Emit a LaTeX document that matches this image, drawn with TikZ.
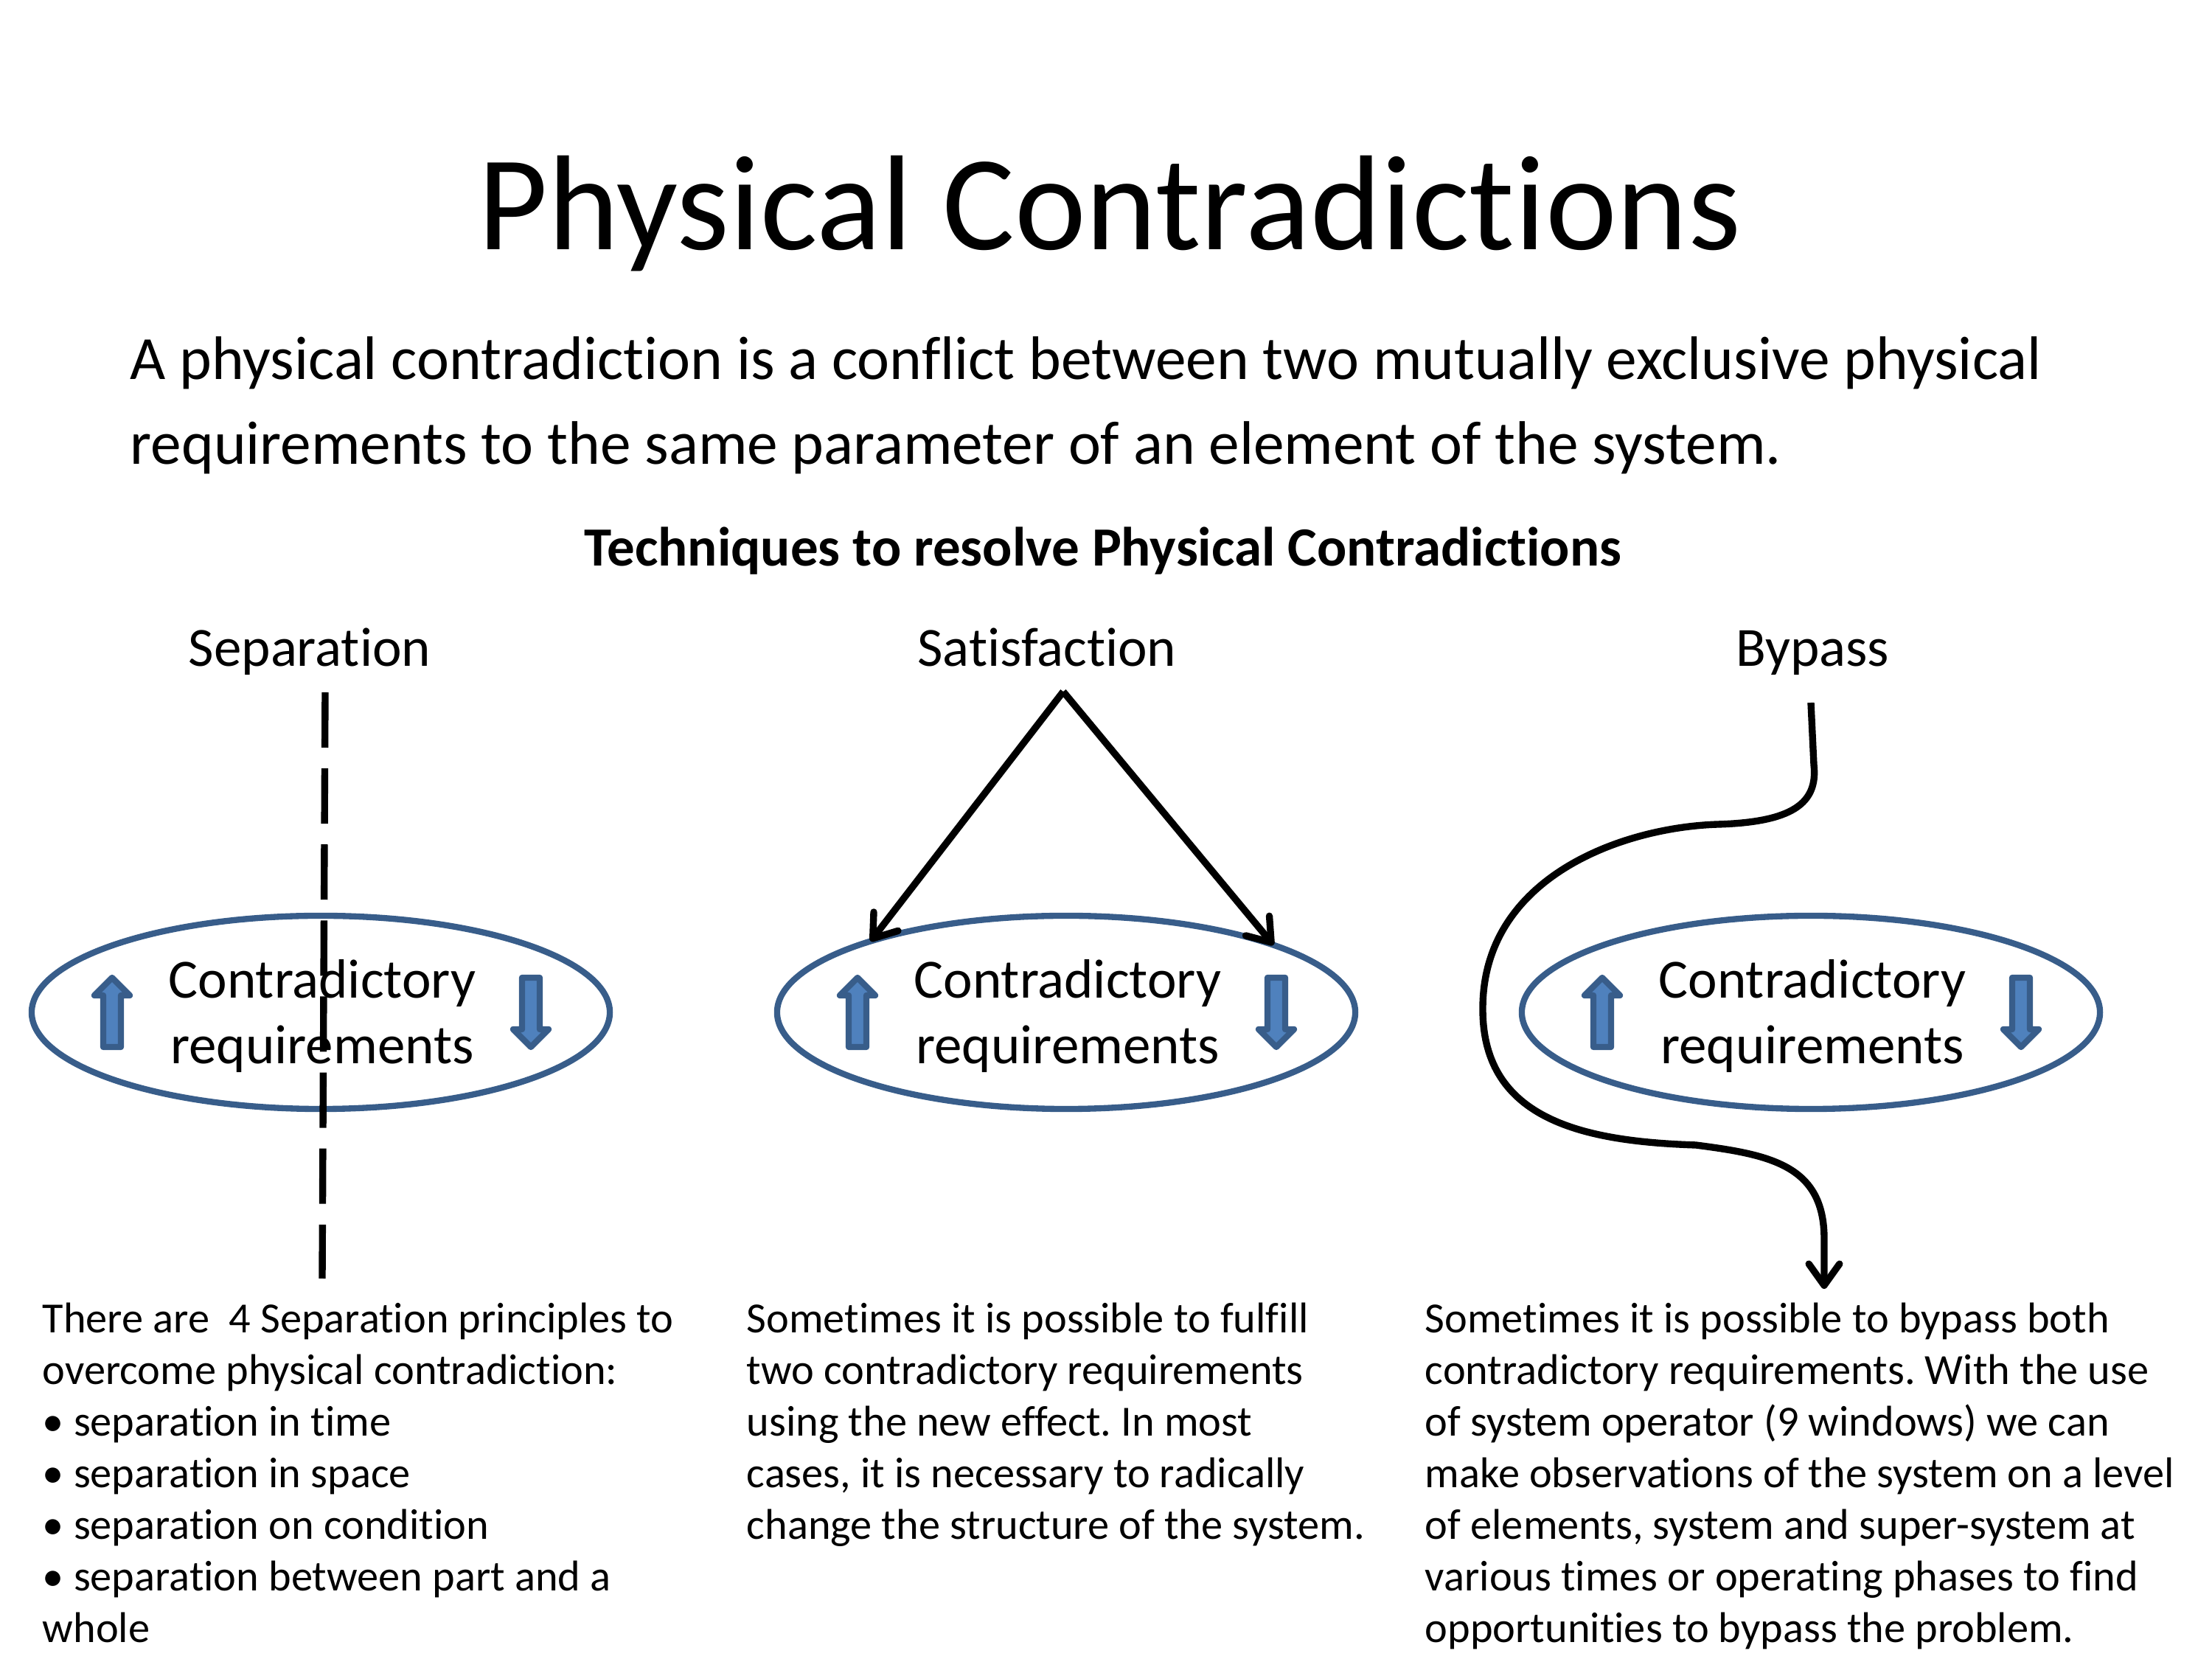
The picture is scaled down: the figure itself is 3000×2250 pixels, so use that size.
\documentclass[tikz,border=0pt]{standalone}
\usepackage{fontspec}
\setmainfont{Carlito}[Ligatures=CommonOff]
\frenchspacing
\usetikzlibrary{arrows.meta,shapes.geometric}
\definecolor{accdark}{HTML}{385D8A}
\definecolor{accfill}{HTML}{4F81BD}
\tikzset{
 reqell/.style={ellipse, draw=accdark, line width=2pt, minimum width=188.2pt, minimum height=62.9pt, inner sep=0pt, outer sep=0pt},
 reqtext/.style={anchor=base, inner sep=0pt, font=\fontsize{18}{21.6}\selectfont},
 body/.style={anchor=base west, inner sep=0pt, font=\fontsize{14}{16.8}\selectfont},
 head/.style={anchor=base, inner sep=0pt, font=\fontsize{18}{21.6}\selectfont},
 blackline/.style={line width=2.25pt, draw=black},
 barb/.style={-{Straight Barb[length=7pt,width=10pt,round]}},
 iconstyle/.style={draw=accdark, fill=accfill, line width=2pt, line join=round},
 upicon/.pic={\path[iconstyle] (0,-47) -- (24,-23) -- (12,-23) -- (12,47) -- (-12,47) -- (-12,-23) -- (-24,-23) -- cycle;},
 downicon/.pic={\path[iconstyle] (0,47) -- (24,23) -- (12,23) -- (12,-47) -- (-12,-47) -- (-12,23) -- (-24,23) -- cycle;},
}
\begin{document}
\begin{tikzpicture}[x=0.24pt,y=-0.24pt]
\useasboundingbox (0,0) rectangle (3000,2250);
% title and definition
\node[anchor=base, inner sep=0pt, font=\fontsize{44}{52.8}\selectfont] (title) at (1505,339) {Physical Contradictions};
\node[body, font=\fontsize{20}{24}\selectfont] (def1) at (176,515) {A physical contradiction is a conflict between two mutually exclusive physical};
\node[body, font=\fontsize{20}{24}\selectfont] (def2) at (176,630) {requirements to the same parameter of an element of the system.};
\node[head, font=\bfseries\fontsize{18}{21.6}\selectfont] (tech) at (1496,768) {Techniques to resolve Physical Contradictions};
% column headings
\node[head] (sep) at (420,904) {Separation};
\node[head] (sat) at (1420,904) {Satisfaction};
\node[head] (byp) at (2458,904) {Bypass};
% ellipses
\foreach \i/\cx in {1/435,2/1446,3/2456}{
 \node[reqell] (e\i) at (\cx,1373) {};
 \node[reqtext] (e\i top) at (\cx+2,1354) {Contradictory};
 \node[reqtext] (e\i bot) at (\cx+2,1443) {requirements};
 \pic at (\cx-283,1373) {upicon};
 \pic at (\cx+285,1373) {downicon};
}
% satisfaction arrows
\coordinate (satTop) at (1442,938);
\draw[blackline, barb] (satTop) -- (e2.160.75);
\draw[blackline, barb] (satTop) -- (e2.18.75);
% bypass curve
\coordinate (bypTop) at (2456,953);
\coordinate (bypEnd) at (2474,1748);
\draw[blackline, barb, line join=round] (bypTop) -- (2460,1037)
  .. controls (2466,1090) and (2430,1115) .. (2330,1118)
  .. controls (2200,1122) and (2010,1190) .. (2011,1369)
  .. controls (2011,1520) and (2150,1548) .. (2300,1553)
  .. controls (2400,1566) and (2474,1580) .. (2474,1680) -- (bypEnd);
% separation dashed line
\coordinate (sepTop) at (441,939);
\coordinate (sepBot) at (437,1734);
\draw[blackline, dash pattern=on 18pt off 6.75pt] (sepTop) -- (sepBot);
% body text
\foreach \t [count=\k from 0] in {{There are~ 4 Separation principles to},{overcome physical contradiction:},{• separation in time},{• separation in space},{• separation on condition},{• separation between part and a},{whole}}
  \node[body] (l\k) at (57,1808+70*\k) {\t};
\foreach \t [count=\k from 0] in {{Sometimes it is possible to fulfill},{two contradictory requirements},{using the new effect. In most},{cases, it is necessary to radically},{change the structure of the system.}}
  \node[body] (m\k) at (1012,1808+70*\k) {\t};
\foreach \t [count=\k from 0] in {{Sometimes it is possible to bypass both},{contradictory requirements. With the use},{of system operator (9 windows) we can},{make observations of the system on a level},{of elements, system and super-system at},{various times or operating phases to find},{opportunities to bypass the problem.}}
  \node[body] (r\k) at (1932,1808+70*\k) {\t};
\end{tikzpicture}
\end{document}
